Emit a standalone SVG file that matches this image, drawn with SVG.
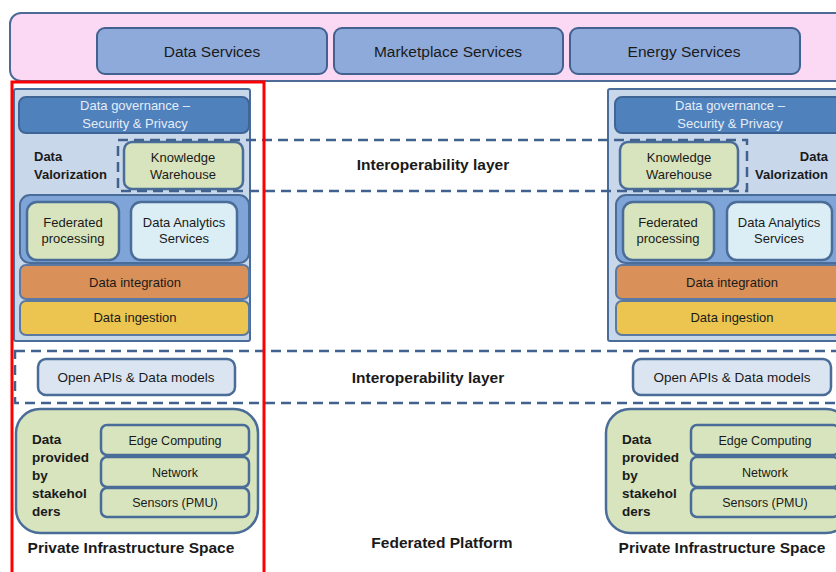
<svg xmlns="http://www.w3.org/2000/svg" width="836" height="572" viewBox="0 0 836 572">
<style>
text{font-family:"Liberation Sans",Arial,sans-serif;fill:#1a1a1a;text-anchor:middle}
.b{font-weight:bold}
.l{text-anchor:start}
.e{text-anchor:end}
.svc{fill:#8eaadb;stroke:#42618f;stroke-width:2}
.pan{fill:#c8d7ea;stroke:#4a6c98;stroke-width:2}
.gov{fill:#4f81bd;stroke:#3f6597;stroke-width:2}
.gw{fill:#e6edf7}
.grn{fill:#d7e4bd;stroke:#4a6c98;stroke-width:2.5}
.ana{fill:#7fa5d8;stroke:#4a6c98;stroke-width:2}
.das{fill:#dbeef5;stroke:#4a6c98;stroke-width:2.5}
.int{fill:#d99159;stroke:#5a79a3;stroke-width:2}
.ing{fill:#ebc550;stroke:#5a79a3;stroke-width:2}
.api{fill:#dbe5f1;stroke:#4a6c98;stroke-width:2.5}
.dash{fill:none;stroke:#41618f;stroke-width:2.5;stroke-dasharray:10 6}
</style>
<g id="top-band">
<rect x="10" y="13" width="840" height="68" rx="11" fill="#fbd8f3" stroke="#4c6b98" stroke-width="2"/>
</g>
<g id="data-services"><rect class="svc" x="97" y="28" width="230" height="46" rx="8"/><text x="212" y="57" font-size="15.5">Data Services</text></g>
<g id="marketplace-services"><rect class="svc" x="334" y="28" width="229" height="46" rx="8"/><text x="448" y="57" font-size="15.5">Marketplace Services</text></g>
<g id="energy-services"><rect class="svc" x="570" y="28" width="230" height="46" rx="8"/><text x="684" y="57" font-size="15.5">Energy Services</text></g>

<g id="left-panel">
<rect class="pan" x="14" y="89" width="236" height="252" rx="2"/>
<g id="left-governance"><rect class="gov" x="19" y="97" width="230" height="36" rx="7"/><text class="gw" x="135" y="110" font-size="13" style="fill:#e6edf7">Data governance –</text><text x="135" y="128" font-size="13" style="fill:#e6edf7">Security &amp; Privacy</text></g>
<g id="left-valorization"><text class="b l" x="34" y="161" font-size="13">Data</text><text class="b l" x="34" y="179" font-size="13">Valorization</text></g>
<g id="left-kw"><rect class="grn" x="124" y="142" width="119" height="47" rx="8"/><text x="183" y="162" font-size="13">Knowledge</text><text x="183" y="179" font-size="13">Warehouse</text></g>
<g id="left-analytics"><rect class="ana" x="20" y="195" width="229" height="68" rx="10"/>
<rect class="grn" x="27" y="202" width="92" height="58" rx="10"/><text x="73" y="227" font-size="13">Federated</text><text x="73" y="243" font-size="13">processing</text>
<rect class="das" x="131" y="202" width="106" height="58" rx="10"/><text x="184" y="227" font-size="13">Data Analytics</text><text x="184" y="243" font-size="13">Services</text></g>
<g id="left-integration"><rect class="int" x="20" y="265" width="229" height="34" rx="6"/><text x="135" y="287" font-size="13">Data integration</text></g>
<g id="left-ingestion"><rect class="ing" x="20" y="301" width="229" height="34" rx="6"/><text x="135" y="322" font-size="13">Data ingestion</text></g>
</g>

<g id="right-panel">
<rect class="pan" x="608" y="89" width="240" height="252" rx="2"/>
<g id="right-governance"><rect class="gov" x="615" y="97" width="232" height="36" rx="7"/><text x="730" y="110" font-size="13" style="fill:#e6edf7">Data governance –</text><text x="730" y="128" font-size="13" style="fill:#e6edf7">Security &amp; Privacy</text></g>
<g id="right-valorization"><text class="b e" x="828" y="161" font-size="13">Data</text><text class="b e" x="828" y="179" font-size="13">Valorization</text></g>
<g id="right-kw"><rect class="grn" x="620" y="142" width="118" height="47" rx="8"/><text x="679" y="162" font-size="13">Knowledge</text><text x="679" y="179" font-size="13">Warehouse</text></g>
<g id="right-analytics"><rect class="ana" x="616" y="195" width="232" height="68" rx="10"/>
<rect class="grn" x="623" y="202" width="91" height="58" rx="10"/><text x="668" y="227" font-size="13">Federated</text><text x="668" y="243" font-size="13">processing</text>
<rect class="das" x="727" y="202" width="105" height="58" rx="10"/><text x="779" y="227" font-size="13">Data Analytics</text><text x="779" y="243" font-size="13">Services</text></g>
<g id="right-integration"><rect class="int" x="616" y="265" width="232" height="34" rx="6"/><text x="732" y="287" font-size="13">Data integration</text></g>
<g id="right-ingestion"><rect class="ing" x="616" y="301" width="232" height="34" rx="6"/><text x="732" y="322" font-size="13">Data ingestion</text></g>
</g>

<g id="connectors">
<rect class="dash" x="118" y="140" width="629" height="51"/>
<rect class="dash" x="15" y="351" width="840" height="52"/>
</g>
<g id="interop-upper"><text class="b" x="433" y="170" font-size="15.5">Interoperability layer</text></g>
<g id="interop-lower"><text class="b" x="428" y="383" font-size="15.5">Interoperability layer</text></g>

<g id="left-apis"><rect class="api" x="38" y="359" width="197" height="36" rx="8"/><text x="136" y="382" font-size="13.5">Open APIs &amp; Data models</text></g>
<g id="right-apis"><rect class="api" x="633" y="359" width="198" height="36" rx="8"/><text x="732" y="382" font-size="13.5">Open APIs &amp; Data models</text></g>

<g id="left-infra">
<rect class="grn" x="16" y="409" width="242" height="124" rx="24" stroke-width="3"/>
<text class="b l" x="32" y="444" font-size="13.5">Data</text><text class="b l" x="32" y="462" font-size="13.5">provided</text><text class="b l" x="32" y="480" font-size="13.5">by</text><text class="b l" x="32" y="498" font-size="13.5">stakehol</text><text class="b l" x="32" y="516" font-size="13.5">ders</text>
<rect class="grn" x="101" y="425" width="148" height="30" rx="6"/><text x="175" y="445" font-size="12.5">Edge Computing</text>
<rect class="grn" x="101" y="457" width="148" height="30" rx="6"/><text x="175" y="477" font-size="12.5">Network</text>
<rect class="grn" x="101" y="488" width="148" height="29" rx="6"/><text x="175" y="507" font-size="12.5">Sensors (PMU)</text>
<text class="b" x="131" y="553" font-size="15.5">Private Infrastructure Space</text>
</g>
<g id="right-infra">
<rect class="grn" x="606" y="409" width="244" height="124" rx="24" stroke-width="3"/>
<text class="b l" x="622" y="444" font-size="13.5">Data</text><text class="b l" x="622" y="462" font-size="13.5">provided</text><text class="b l" x="622" y="480" font-size="13.5">by</text><text class="b l" x="622" y="498" font-size="13.5">stakehol</text><text class="b l" x="622" y="516" font-size="13.5">ders</text>
<rect class="grn" x="691" y="425" width="148" height="30" rx="6"/><text x="765" y="445" font-size="12.5">Edge Computing</text>
<rect class="grn" x="691" y="457" width="148" height="30" rx="6"/><text x="765" y="477" font-size="12.5">Network</text>
<rect class="grn" x="691" y="488" width="148" height="29" rx="6"/><text x="765" y="507" font-size="12.5">Sensors (PMU)</text>
<text class="b" x="722" y="553" font-size="15.5">Private Infrastructure Space</text>
</g>
<g id="federated-platform"><text class="b" x="442" y="548" font-size="15.5">Federated Platform</text></g>
<g id="highlight"><rect x="12" y="82" width="252" height="500" fill="none" stroke="#ff0000" stroke-width="3"/></g>
</svg>
